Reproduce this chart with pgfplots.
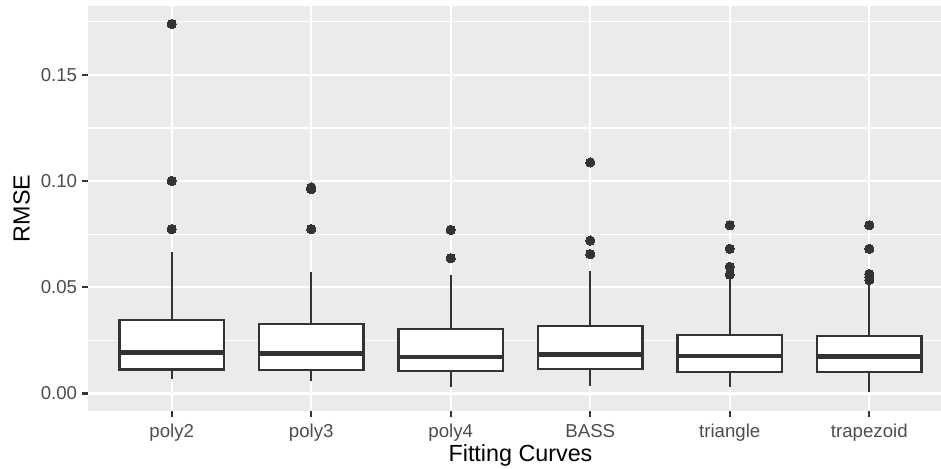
\documentclass[border=0pt]{standalone}
\usepackage{fontspec}
\setmainfont{Liberation Sans}
\usepackage{pgfplots}
\pgfplotsset{compat=1.18}

\definecolor{panelbg}{HTML}{EBEBEB}
\definecolor{ink}{HTML}{333333}
\definecolor{ticktext}{HTML}{4D4D4D}

\pgfplotsset{
  boxrect/.style={draw=ink, fill=white, line width=1.07pt, line join=miter},
  whisker/.style={draw=ink, line width=1.07pt},
  medianline/.style={draw=ink, line width=2.13pt},
  outlier/.style={only marks, mark=*, mark size=2.2pt,
    mark options={draw=ink, fill=ink, line width=0pt}},
}

\begin{document}
\begin{tikzpicture}
\begin{axis}[
  at={(0,0)}, anchor=south west,
  scale only axis,
  width=402.36pt, height=191.04pt,
  xmin=0.4, xmax=6.514,
  ymin=-0.0083, ymax=0.1825,
  axis background/.style={fill=panelbg},
  axis line style={draw=none},
  xtick={1,2,3,4,5,6},
  xticklabels={poly2,poly3,poly4,BASS,triangle,trapezoid},
  ytick={0,0.05,0.1,0.15},
  yticklabels={0.00,0.05,0.10,0.15},
  minor ytick={0.025,0.075,0.125,0.175},
  xtick pos=left, ytick pos=left,
  tick align=outside,
  major tick length=2.75pt,
  minor tick length=0pt,
  major tick style={draw=ink, line width=1.07pt},
  xmajorgrids, ymajorgrids, yminorgrids,
  major grid style={draw=white, line width=1.07pt},
  minor grid style={draw=white, line width=0.53pt},
  ticklabel style={font=\fontsize{8.8}{10}\selectfont, text=ticktext},
  xticklabel style={anchor=base, inner sep=0pt, yshift=-9.9pt},
  yticklabel style={anchor=east, inner sep=0pt, xshift=-2.2pt},
  xlabel={Fitting Curves}, ylabel={RMSE},
  every axis x label/.style={at={(axis cs:3.5,-0.0083)}, anchor=base, yshift=-23.9pt,
    font=\fontsize{11}{13}\selectfont},
  every axis y label/.style={at={(rel axis cs:0,0.5)}, xshift=-27.5pt, rotate=90, anchor=base,
    font=\fontsize{11}{13}\selectfont},
]
% ---- poly2: whiskers 0.0066 / 0.0665, box 0.0113-0.0346, median 0.0192
\addplot[whisker] coordinates {(1,0.0066) (1,0.0113)};
\addplot[whisker] coordinates {(1,0.0346) (1,0.0665)};
\addplot[boxrect] coordinates {(0.625,0.0113) (1.375,0.0113) (1.375,0.0346) (0.625,0.0346)} -- cycle;
\addplot[medianline] coordinates {(0.625,0.0192) (1.375,0.0192)};
\addplot[outlier] coordinates {(1,0.1740) (1,0.1001) (1,0.0774)};
% ---- poly3
\addplot[whisker] coordinates {(2,0.0058) (2,0.0110)};
\addplot[whisker] coordinates {(2,0.0327) (2,0.0574)};
\addplot[boxrect] coordinates {(1.625,0.0110) (2.375,0.0110) (2.375,0.0327) (1.625,0.0327)} -- cycle;
\addplot[medianline] coordinates {(1.625,0.0189) (2.375,0.0189)};
\addplot[outlier] coordinates {(2,0.0970) (2,0.0962) (2,0.0774)};
% ---- poly4
\addplot[whisker] coordinates {(3,0.0028) (3,0.0105)};
\addplot[whisker] coordinates {(3,0.0305) (3,0.0558)};
\addplot[boxrect] coordinates {(2.625,0.0105) (3.375,0.0105) (3.375,0.0305) (2.625,0.0305)} -- cycle;
\addplot[medianline] coordinates {(2.625,0.0172) (3.375,0.0172)};
\addplot[outlier] coordinates {(3,0.0770) (3,0.0637)};
% ---- BASS
\addplot[whisker] coordinates {(4,0.0033) (4,0.0114)};
\addplot[whisker] coordinates {(4,0.0318) (4,0.0577)};
\addplot[boxrect] coordinates {(3.625,0.0114) (4.375,0.0114) (4.375,0.0318) (3.625,0.0318)} -- cycle;
\addplot[medianline] coordinates {(3.625,0.0183) (4.375,0.0183)};
\addplot[outlier] coordinates {(4,0.1088) (4,0.0720) (4,0.0656)};
% ---- triangle
\addplot[whisker] coordinates {(5,0.0028) (5,0.0102)};
\addplot[whisker] coordinates {(5,0.0276) (5,0.0545)};
\addplot[boxrect] coordinates {(4.625,0.0102) (5.375,0.0102) (5.375,0.0276) (4.625,0.0276)} -- cycle;
\addplot[medianline] coordinates {(4.625,0.0176) (5.375,0.0176)};
\addplot[outlier] coordinates {(5,0.0792) (5,0.0681) (5,0.0596) (5,0.0560)};
% ---- trapezoid
\addplot[whisker] coordinates {(6,0.0006) (6,0.0102)};
\addplot[whisker] coordinates {(6,0.0270) (6,0.0520)};
\addplot[boxrect] coordinates {(5.625,0.0102) (6.375,0.0102) (6.375,0.0270) (5.625,0.0270)} -- cycle;
\addplot[medianline] coordinates {(5.625,0.0173) (6.375,0.0173)};
\addplot[outlier] coordinates {(6,0.0792) (6,0.0681) (6,0.0562) (6,0.0548) (6,0.0534)};
\end{axis}
\pgfresetboundingbox
\path[use as bounding box] (-41.51pt,-27.36pt) rectangle (402.36pt,193.87pt);
\end{tikzpicture}
\end{document}
